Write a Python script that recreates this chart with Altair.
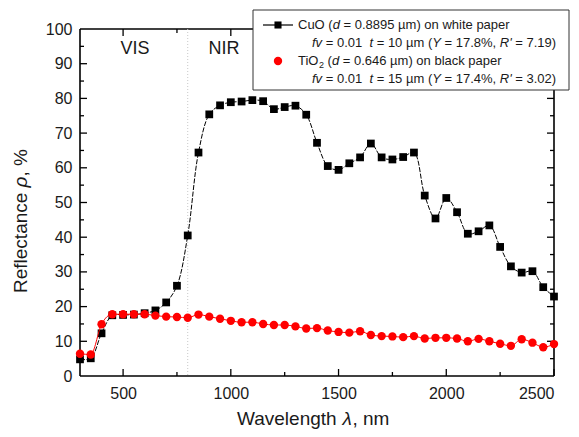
import altair as alt
import pandas as pd

# ---------------- data ----------------
wavelength = list(range(300, 2501, 50))
cuo = [4.8, 5.1, 12.3, 17.5, 17.6, 17.7, 18.1, 18.9, 21.2, 26.0,
       40.5, 64.4, 75.4, 78.0, 78.9, 79.1, 79.5, 79.2, 76.9, 77.5,
       77.9, 75.3, 67.2, 60.5, 59.4, 61.3, 63.0, 67.0, 63.0, 62.4,
       63.1, 64.4, 52.0, 45.4, 51.3, 47.2, 41.0, 41.7, 43.4, 37.2,
       31.6, 29.8, 30.2, 25.6, 22.9]
tio2 = [6.4, 6.2, 14.9, 17.8, 17.8, 17.8, 17.8, 17.4, 17.1, 17.0,
        16.8, 17.7, 17.1, 16.5, 15.9, 15.5, 15.5, 15.0, 14.7, 14.7,
        14.3, 13.7, 13.8, 13.1, 12.7, 12.5, 12.9, 11.8, 11.5, 11.4,
        11.2, 11.5, 10.8, 11.0, 11.0, 10.8, 10.0, 10.7, 10.0, 9.3,
        8.7, 10.6, 9.6, 8.3, 9.2]

x_major = [500, 1000, 1500, 2000, 2500]
x_minor = [750, 1250, 1750, 2250]
y_labels = list(range(0, 101, 10))
y_major = list(range(10, 100, 10))
y_minor = list(range(5, 100, 10))
boundary = [800]
region_labels = ["VIS", "NIR"]
region_x = [555, 968]
region_y = [94.2, 94.2]

x_title = [("Wavelength ", "n"), ("λ", "i"), (", nm", "n")]
y_title = [("Reflectance ", "n"), ("ρ", "i"), (", %", "n")]

legend_lines = [
    [("CuO (", "n"), ("d", "i"), (" = 0.8895 µm) on white paper", "n")],
    [("fv", "i"), (" = 0.01  ", "n"), ("t", "i"), (" = 10 µm (", "n"), ("Y", "i"),
     (" = 17.8%, ", "n"), ("R'", "i"), (" = 7.19)", "n")],
    [("TiO", "n"), ("2", "s"), (" (", "n"), ("d", "i"), (" = 0.646 µm) on black paper", "n")],
    [("fv", "i"), (" = 0.01  ", "n"), ("t", "i"), (" = 15 µm (", "n"), ("Y", "i"),
     (" = 17.4%, ", "n"), ("R'", "i"), (" = 3.02)", "n")],
]

# ---------------- layout ----------------
W, H = 474, 347
FONT = "Liberation Sans"
TXT = "#1a1a1a"

xs = alt.Scale(domain=[300, 2500], nice=False, zero=False)
ys = alt.Scale(domain=[0, 100], nice=False, zero=False)

df = pd.DataFrame({"wl": wavelength, "cuo": cuo, "tio2": tio2})
one = pd.DataFrame({"a": [0]})

x_axis = alt.Axis(values=x_major, format="d", ticks=False, domain=False, grid=False,
                  labelFontSize=16, labelPadding=9, labelColor=TXT, title=None)
y_axis = alt.Axis(values=y_labels, format="d", ticks=False, domain=False, grid=False,
                  labelFontSize=16, labelPadding=8, labelColor=TXT, title=None)

def X(field):
    return alt.X(field, scale=xs, axis=x_axis)

def Y(field):
    return alt.Y(field, scale=ys, axis=y_axis)

layers = []

# frame
frame_df = pd.DataFrame({"x": [300, 300, 300, 2500], "x2": [2500, 2500, 300, 2500],
                         "y": [0, 100, 0, 0], "y2": [0, 100, 100, 100]})
layers.append(alt.Chart(frame_df).mark_rule(color="black", strokeWidth=1.6).encode(
    x=X("x:Q"), x2="x2:Q", y=Y("y:Q"), y2="y2:Q"))

# inward ticks
def xticks(vals, length, top):
    d = pd.DataFrame({"v": vals})
    if top:
        yy, yy2 = alt.value(0), alt.value(length)
    else:
        yy, yy2 = alt.value(H), alt.value(H - length)
    return alt.Chart(d).mark_rule(color="black", strokeWidth=1.3).encode(
        x=X("v:Q"), y=yy, y2=yy2)

def yticks(vals, length, right):
    d = pd.DataFrame({"v": vals})
    if right:
        xx, xx2 = alt.value(W), alt.value(W - length)
    else:
        xx, xx2 = alt.value(0), alt.value(length)
    return alt.Chart(d).mark_rule(color="black", strokeWidth=1.3).encode(
        y=Y("v:Q"), x=xx, x2=xx2)

for top in (False, True):
    layers.append(xticks(x_major, 7, top))
    layers.append(xticks(x_minor, 4, top))
for right in (False, True):
    layers.append(yticks(y_major, 7, right))
    layers.append(yticks(y_minor, 4, right))

# VIS / NIR boundary
layers.append(alt.Chart(pd.DataFrame({"b": boundary})).mark_rule(
    color="#c8c8c8", strokeWidth=1, strokeDash=[1, 2]).encode(
    x=X("b:Q"), y=alt.value(0), y2=alt.value(H)))

# region labels
layers.append(alt.Chart(pd.DataFrame({"t": region_labels, "x": region_x, "y": region_y}))
              .mark_text(fontSize=18, color=TXT, font=FONT)
              .encode(x=X("x:Q"), y=Y("y:Q"), text="t:N"))

# CuO
layers.append(alt.Chart(df).mark_line(color="black", strokeWidth=1, strokeDash=[5, 1.5],
                                      interpolate="catmull-rom").encode(
    x=X("wl:Q"), y=Y("cuo:Q")))
layers.append(alt.Chart(df).mark_point(shape="square", filled=True, size=60, color="black",
                                       opacity=1).encode(x=X("wl:Q"), y=Y("cuo:Q")))

# TiO2
layers.append(alt.Chart(df).mark_line(color="#ff0000", strokeWidth=1,
                                      interpolate="monotone").encode(
    x=X("wl:Q"), y=Y("tio2:Q")))
layers.append(alt.Chart(df).mark_point(shape="circle", filled=True, size=70, color="#ff0000",
                                       opacity=1).encode(x=X("wl:Q"), y=Y("tio2:Q")))

# ---------------- text helpers ----------------
ARIAL = {" ": 278, "(": 333, ")": 333, "=": 584, ".": 278, ",": 278, "%": 889, "'": 191,
         "µ": 576, "C": 722, "u": 556, "O": 778, "d": 556, "m": 833, "o": 556, "n": 556,
         "w": 722, "h": 556, "i": 222, "t": 278, "e": 556, "p": 556, "a": 556, "r": 333,
         "f": 278, "v": 500, "Y": 667, "R": 722, "T": 611, "I": 278, "b": 556, "l": 222,
         "c": 500, "k": 500, "W": 944, "g": 556, "λ": 520, "ρ": 570}

def tw(s, size):
    return sum(ARIAL.get(ch, 556) for ch in s) * size / 1000.0

def seg_text(segs, x0, y0, size, vertical=False, baseline="middle"):
    out = []
    pos = 0.0
    for txt, style in segs:
        sz = 9 if style == "s" else size
        lead = len(txt) - len(txt.lstrip(" "))
        shown = txt.strip(" ")
        off = pos + tw(" " * lead, sz)
        if vertical:
            px, py = x0, y0 - off
        else:
            px, py = x0 + off, y0 + (4 if style == "s" else 0)
        kw = dict(text=shown, fontSize=sz, font=FONT, color=TXT, align="left",
                  baseline=baseline,
                  fontStyle="italic" if style == "i" else "normal")
        if vertical:
            kw["angle"] = 270
        out.append(alt.Chart(one).mark_text(**kw).encode(x=alt.value(px), y=alt.value(py)))
        pos += tw(txt, sz)
    return out

# axis titles
TS = 19
layers += seg_text(x_title, 157, H + 49, TS, baseline="alphabetic")
layers += seg_text(y_title, -53, 264, TS, vertical=True, baseline="alphabetic")

# ---------------- legend ----------------
BX0, BX1, BY0, BY1 = 173, 489, -19, 61
layers.append(alt.Chart(one).mark_rect(fill="white", stroke="#333333", strokeWidth=1).encode(
    x=alt.value(BX0), x2=alt.value(BX1), y=alt.value(BY0), y2=alt.value(BY1)))
layers.append(alt.Chart(one).mark_rule(color="black", strokeWidth=1.2).encode(
    x=alt.value(183), x2=alt.value(213), y=alt.value(-4)))
layers.append(alt.Chart(one).mark_point(shape="square", filled=True, size=50, color="black",
                                        opacity=1).encode(x=alt.value(198), y=alt.value(-4)))
layers.append(alt.Chart(one).mark_point(shape="circle", filled=True, size=70, color="#ff0000",
                                        opacity=1).encode(x=alt.value(198), y=alt.value(32)))

FS = 13
line_x = [218, 232, 218, 232]
line_y = [-4, 14, 32, 50]
for segs, x0, y0 in zip(legend_lines, line_x, line_y):
    layers += seg_text(segs, x0, y0, FS)

chart = alt.layer(*layers).properties(
    width=W, height=H,
    padding={"left": 72, "top": 21, "right": 16, "bottom": 53},
    autosize=alt.AutoSizeParams(type="none"),
).configure(font=FONT).configure_view(stroke=None)

chart.save("out.html", embed_options={"renderer": "svg", "actions": False})
